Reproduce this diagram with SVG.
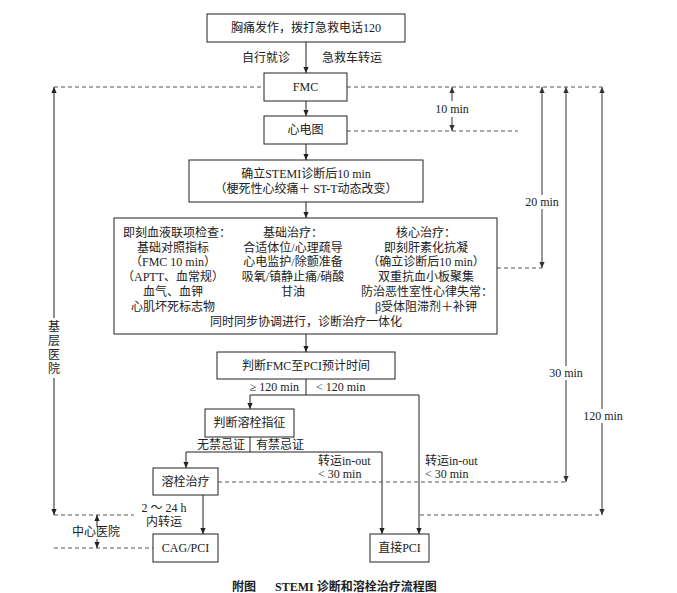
<svg xmlns="http://www.w3.org/2000/svg" width="677" height="593" viewBox="0 0 677 593">
<defs>
<marker id="ah" viewBox="0 0 8 8" refX="8" refY="4" markerWidth="6" markerHeight="6" orient="auto" markerUnits="userSpaceOnUse">
<path d="M0,0.5 L8,4 L0,7.5 z" fill="#222"/>
</marker>
<marker id="ag" viewBox="0 0 8 8" refX="8" refY="4" markerWidth="6" markerHeight="6" orient="auto" markerUnits="userSpaceOnUse">
<path d="M0,0.5 L8,4 L0,7.5 z" fill="#333"/>
</marker>
<style>
.box{fill:#fff;stroke:#222;stroke-width:1}
.ln{fill:none;stroke:#222;stroke-width:1}
.tm{fill:none;stroke:#555;stroke-width:1.2}
.ds{fill:none;stroke:#555;stroke-width:1;stroke-dasharray:4 3}
.t{font-family:"Liberation Serif","Noto Sans CJK SC",serif;font-size:12px;fill:#222}
.c{text-anchor:middle}
.e{text-anchor:end}
.b{font-weight:bold}
</style>
</defs>
<rect width="677" height="593" fill="#fff"/>

<g id="connectors">
<path class="ln" d="M306 42 V73" marker-end="url(#ah)"/>
<path class="ln" d="M306 101 V116" marker-end="url(#ah)"/>
<path class="ln" d="M306 144 V160" marker-end="url(#ah)"/>
<path class="ln" d="M306 202 V218" marker-end="url(#ah)"/>
<path class="ln" d="M306 334 V352" marker-end="url(#ah)"/>
<path class="ln" d="M306 379 V395 M250 395 H419"/>
<path class="ln" d="M250 395 V409" marker-end="url(#ah)"/>
<path class="ln" d="M419 395 V534" marker-end="url(#ah)"/>
<path class="ln" d="M250 437 V452 M186 452 H382"/>
<path class="ln" d="M186 452 V468" marker-end="url(#ah)"/>
<path class="ln" d="M382 452 V534" marker-end="url(#ah)"/>
<path class="ln" d="M203 495 V534" marker-end="url(#ah)"/>

<path class="ds" d="M54 87 H264 M347 87 H602"/>
<path class="ds" d="M347 131 H518"/>
<path class="ds" d="M497 268 H542"/>
<path class="ds" d="M218 482 H566"/>
<path class="ds" d="M420 515 H602"/>
<path class="ds" d="M54 515 H134"/>
<path class="ds" d="M54 548 H153"/>

<path class="tm" d="M452 101 V87" marker-end="url(#ag)"/>
<path class="tm" d="M452 117 V131" marker-end="url(#ag)"/>
<path class="tm" d="M542 195 V87" marker-end="url(#ag)"/>
<path class="tm" d="M542 209 V268" marker-end="url(#ag)"/>
<path class="tm" d="M566 366 V87" marker-end="url(#ag)"/>
<path class="tm" d="M566 380 V482" marker-end="url(#ag)"/>
<path class="tm" d="M602 409 V87" marker-end="url(#ag)"/>
<path class="tm" d="M602 423 V515" marker-end="url(#ag)"/>
<path class="ln" d="M54 318 V87" marker-end="url(#ah)"/>
<path class="ln" d="M54 378 V515" marker-end="url(#ah)"/>
<path class="ln" d="M97 527 V515" marker-end="url(#ah)"/>
<path class="ln" d="M97 539 V548" marker-end="url(#ah)"/>
</g>

<g id="labels">
<text class="t e" x="290" y="62">自行就诊</text>
<text class="t" x="322" y="62">急救车转运</text>
<text class="t c" x="452" y="113">10 min</text>
<text class="t c" x="542" y="206">20 min</text>
<text class="t c" x="566" y="377">30 min</text>
<text class="t c" x="603" y="420">120 min</text>
<text class="t c" x="54" y="331">基</text>
<text class="t c" x="54" y="345">层</text>
<text class="t c" x="54" y="359">医</text>
<text class="t c" x="54" y="373">院</text>
<text class="t e" x="299" y="391">≥ 120 min</text>
<text class="t" x="316" y="391">&lt; 120 min</text>
<text class="t e" x="245" y="449">无禁忌证</text>
<text class="t" x="256" y="449">有禁忌证</text>
<text class="t" x="318" y="465">转运in-out</text>
<text class="t" x="318" y="478">&lt; 30 min</text>
<text class="t" x="425" y="465">转运in-out</text>
<text class="t" x="425" y="478">&lt; 30 min</text>
<text class="t c" x="164" y="512">2 ～ 24 h</text>
<text class="t c" x="164" y="526">内转运</text>
<text class="t c" x="96" y="536">中心医院</text>
</g>

<g id="n-start">
<rect class="box" x="207" y="14" width="198" height="28"/>
<text class="t c" x="306" y="32">胸痛发作，拨打急救电话120</text>
</g>
<g id="n-fmc">
<rect class="box" x="264" y="73" width="83" height="28"/>
<text class="t c" x="305.5" y="91">FMC</text>
</g>
<g id="n-ecg">
<rect class="box" x="264" y="116" width="83" height="28"/>
<text class="t c" x="305.5" y="134">心电图</text>
</g>
<g id="n-stemi">
<rect class="box" x="189" y="160" width="234" height="42"/>
<text class="t c" x="306" y="178">确立STEMI诊断后10 min</text>
<text class="t c" x="306" y="193">（梗死性心绞痛＋ ST-T动态改变）</text>
</g>
<g id="n-treat">
<rect class="box" x="114" y="218" width="383" height="116"/>
<text class="t" x="123" y="237">即刻血液联项检查：</text>
<text class="t c" x="173" y="252">基础对照指标</text>
<text class="t c" x="173" y="266">（FMC 10 min）</text>
<text class="t c" x="173" y="281">（APTT、血常规）</text>
<text class="t c" x="173" y="296">血气、血钾</text>
<text class="t c" x="173" y="311">心肌坏死标志物</text>
<text class="t c" x="293" y="237">基础治疗：</text>
<text class="t c" x="293" y="252">合适体位/心理疏导</text>
<text class="t c" x="293" y="266">心电监护/除颤准备</text>
<text class="t c" x="293" y="281">吸氧/镇静止痛/硝酸</text>
<text class="t c" x="293" y="296">甘油</text>
<text class="t c" x="426" y="237">核心治疗：</text>
<text class="t c" x="426" y="252">即刻肝素化抗凝</text>
<text class="t c" x="426" y="266">（确立诊断后10 min）</text>
<text class="t c" x="426" y="281">双重抗血小板聚集</text>
<text class="t c" x="427" y="296">防治恶性室性心律失常：</text>
<text class="t c" x="426" y="311">β受体阻滞剂＋补钾</text>
<text class="t c" x="306" y="326">同时同步协调进行，诊断治疗一体化</text>
</g>
<g id="n-judge">
<rect class="box" x="217" y="352" width="178" height="27"/>
<text class="t c" x="306" y="370">判断FMC至PCI预计时间</text>
</g>
<g id="n-indic">
<rect class="box" x="205" y="409" width="89" height="28"/>
<text class="t c" x="249.5" y="427">判断溶栓指征</text>
</g>
<g id="n-lysis">
<rect class="box" x="153" y="468" width="65" height="27"/>
<text class="t c" x="185.5" y="486">溶栓治疗</text>
</g>
<g id="n-cag">
<rect class="box" x="153" y="534" width="65" height="28"/>
<text class="t c" x="185.5" y="552">CAG/PCI</text>
</g>
<g id="n-pci">
<rect class="box" x="370" y="534" width="59" height="28"/>
<text class="t c" x="399.5" y="552">直接PCI</text>
</g>

<g id="caption">
<text class="t b" x="232" y="591">附图</text>
<text class="t b" x="275" y="591">STEMI 诊断和溶栓治疗流程图</text>
</g>
</svg>
